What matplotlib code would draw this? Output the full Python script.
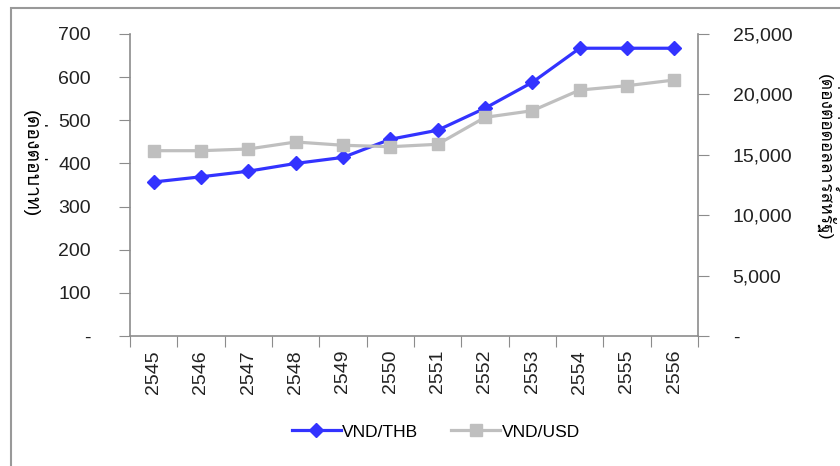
import matplotlib
matplotlib.use('Agg')
import matplotlib.pyplot as plt
from matplotlib import font_manager, ft2font
from matplotlib.patches import Rectangle
from matplotlib.ticker import FuncFormatter
import numpy as np


def thai_families():
    # look for any installed family that has Thai glyphs
    names = []
    for f in font_manager.fontManager.ttflist:
        try:
            if ord('ด') in ft2font.FT2Font(f.fname).get_charmap() and f.name not in names:
                names.append(f.name)
        except Exception:
            pass
    return names


thai = thai_families()
plt.rcParams['font.family'] = ['Liberation Sans'] + thai + ['DejaVu Sans']

years = ['2545', '2546', '2547', '2548', '2549', '2550',
         '2551', '2552', '2553', '2554', '2555', '2556']
vnd_thb = [357, 369, 382, 400, 414, 456, 477, 528, 588, 667, 667, 667]
vnd_usd = [15340, 15340, 15480, 16060, 15790, 15670, 15870, 18100, 18650, 20360, 20720, 21190]

left_label = '(ด่องต่อบาท)'
right_label = '(ด่องต่อดอลลาร์สหรัฐ)'

blue = '#3333FF'
grey = '#BFBFBF'
axis_col = '#8C8C8C'

fig = plt.figure(figsize=(8.4, 4.66), dpi=100)
ax = fig.add_axes([130/840, 1-336/466, (698-130)/840, (336-34)/466])
ax2 = ax.twinx()

x = np.arange(len(years))
l1, = ax.plot(x, vnd_thb, color=blue, lw=2.3, marker='D', ms=7.5, label='VND/THB')
l2, = ax2.plot(x, vnd_usd, color=grey, lw=2.3, marker='s', ms=8.5, label='VND/USD')

ax.set_xlim(-0.5, len(years)-0.5)
ax.set_ylim(0, 700)
ax2.set_ylim(0, 25000)
ax.set_yticks(np.arange(0, 701, 100))
ax2.set_yticks(np.arange(0, 25001, 5000))

dash0 = lambda fmt: FuncFormatter(lambda v, p: '-' if v == 0 else fmt.format(v))
ax.yaxis.set_major_formatter(dash0('{:.0f}'))
ax2.yaxis.set_major_formatter(dash0('{:,.0f}'))

ax.set_xticks(np.arange(-0.5, len(years), 1))
ax.set_xticklabels([])
ax.set_xticks(x, minor=True)
ax.set_xticklabels(years, minor=True, rotation=90)
ax.tick_params(axis='x', which='minor', length=0, labelsize=14, pad=10, colors='#222222')
ax.tick_params(axis='x', which='major', length=8, color=axis_col)
ax.tick_params(axis='y', length=8, color=axis_col, labelsize=14, pad=20, labelcolor='#222222')
ax2.tick_params(axis='y', length=8, color=axis_col, labelsize=14, pad=17, labelcolor='#222222')

for a in (ax, ax2):
    a.spines['top'].set_visible(False)
    for s in ('left', 'right', 'bottom'):
        a.spines[s].set_color(axis_col)
        a.spines[s].set_linewidth(1.2)
ax.spines['right'].set_visible(False)
ax2.spines['left'].set_visible(False)
ax2.spines['bottom'].set_visible(False)

fig.text(34/840, 1-164/466, left_label, rotation=270, ha='center', va='center', fontsize=14)
fig.text(826/840, 1-157/466, right_label, rotation=270, ha='center', va='center', fontsize=12.5)

fig.legend(handles=[l1, l2], loc='center', bbox_to_anchor=(436/840, 1-432/466), ncol=2,
           frameon=False, fontsize=12.5, handlelength=2.8, columnspacing=1.9, handletextpad=0.1)

fig.patches.append(Rectangle((11/840, -0.1), 1.2, (1-8/466)+0.1, transform=fig.transFigure,
                             fill=False, edgecolor='#999999', lw=1.5))

fig.savefig('out.png', dpi=100)
